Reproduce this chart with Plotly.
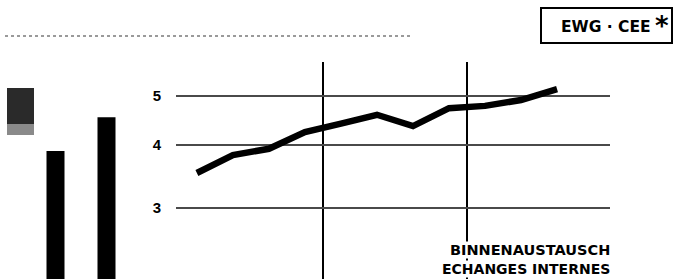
import plotly.graph_objects as go

# Data
years = [1958, 1959, 1960, 1961, 1962, 1963, 1964, 1965, 1966, 1967, 1968]
trade_index = [3.52, 3.82, 3.93, 4.24, 4.41, 4.59, 4.36, 4.73, 4.78, 4.91, 5.16]
y_ticks = [3, 4, 5]
y_tick_labels = ["3", "4", "5"]
period_marks = [1961.5, 1965.5]
side_bars_x = [0, 1]
side_bars_val = [3.89, 4.54]

W, H = 674, 279
ML, MR, MT, MB = 0, 0, 62, 0
PW = W - ML - MR
PH = H - MT - MB

def px(x):
    return (x - ML) / PW

def py(y):
    return (H - MB - y) / PH

log_range = [0.3366, 0.7663]

fig = go.Figure()

fig.add_trace(go.Scatter(
    x=years, y=trade_index, mode="lines",
    line=dict(color="black", width=6.5),
    xaxis="x", yaxis="y", hoverinfo="skip", showlegend=False,
))

fig.add_trace(go.Bar(
    x=side_bars_x, y=side_bars_val,
    width=0.353, marker=dict(color="black", line=dict(width=0)),
    xaxis="x2", yaxis="y2", showlegend=False, hoverinfo="skip",
))

fig.update_layout(
    width=W, height=H,
    margin=dict(l=ML, r=MR, t=MT, b=MB),
    paper_bgcolor="white", plot_bgcolor="white",
    xaxis=dict(
        domain=[px(176), px(610)], range=[1957.42, 1969.47],
        tickvals=period_marks, showticklabels=False, ticks="",
        showgrid=True, gridcolor="black", gridwidth=1.6,
        zeroline=False, showline=False, anchor="y",
    ),
    yaxis=dict(
        type="log", range=log_range, domain=[0, 1],
        tickvals=y_ticks, ticktext=y_tick_labels, ticks="",
        showgrid=True, gridcolor="#4a4a4a", gridwidth=2,
        zeroline=False, showline=False, anchor="x",
        ticklabelstandoff=14,
        tickfont=dict(family="Liberation Sans Narrow, Liberation Sans, Arial", size=15, color="black", weight="bold"),
    ),
    xaxis2=dict(
        domain=[px(30), px(132)], range=[-0.5, 1.5],
        showticklabels=False, showgrid=False, zeroline=False, showline=False,
        ticks="", anchor="y2",
    ),
    yaxis2=dict(
        type="log", range=log_range, domain=[0, 1],
        showticklabels=False, showgrid=False, zeroline=False, showline=False,
        ticks="", anchor="x2",
    ),
    showlegend=False,
)

# Decorative remnants of the neighbouring panel
fig.add_shape(type="line", xref="paper", yref="paper",
              x0=px(5), x1=px(410), y0=py(36), y1=py(36),
              line=dict(color="#9a9a9a", width=2, dash="dot"))
fig.add_shape(type="rect", xref="paper", yref="paper",
              x0=px(7), x1=px(34), y0=py(124), y1=py(88),
              fillcolor="#2a2a2a", line=dict(width=0))
fig.add_shape(type="rect", xref="paper", yref="paper",
              x0=px(7), x1=px(34), y0=py(135), y1=py(124),
              fillcolor="#8a8a8a", line=dict(width=0))

# Title box
fig.add_shape(type="rect", xref="paper", yref="paper",
              x0=px(541), x1=px(672), y0=py(43), y1=py(8),
              line=dict(color="black", width=2), fillcolor="white")
fig.add_annotation(
    xref="paper", yref="paper", x=px(653), y=py(27),
    xanchor="right", yanchor="middle", showarrow=False,
    text="EWG · CEE",
    font=dict(family="DejaVu Sans", size=15.5, color="black", weight="bold"),
)
fig.add_annotation(
    xref="paper", yref="paper", x=px(662), y=py(26),
    xanchor="center", yanchor="middle", showarrow=False,
    text="*",
    font=dict(family="DejaVu Sans", size=26, color="black", weight="bold"),
)

fig.add_annotation(
    xref="paper", yref="paper", x=px(611), y=py(250),
    xanchor="right", yanchor="middle", showarrow=False,
    text="BINNENAUSTAUSCH",
    font=dict(family="DejaVu Sans", size=14.5, color="black", weight="bold"),
    bgcolor="white", borderpad=0,
)
fig.add_annotation(
    xref="paper", yref="paper", x=px(611), y=py(268.5),
    xanchor="right", yanchor="middle", showarrow=False,
    text="ECHANGES INTERNES",
    font=dict(family="DejaVu Sans", size=14, color="black", weight="bold"),
    bgcolor="white", borderpad=0,
)

fig.write_html(
    "out.html",
    config={"displayModeBar": False},
    post_script="document.body.style.margin='0';document.body.style.padding='0';",
)
